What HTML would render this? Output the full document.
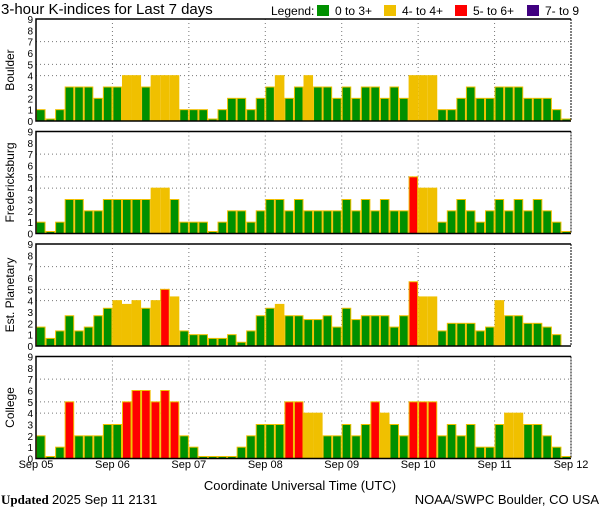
<!DOCTYPE html>
<html><head><meta charset="utf-8"><style>
body{margin:0;background:#fff;}
svg{display:block;font-family:"Liberation Sans",sans-serif;}
</style></head><body>
<svg id="chart" width="600" height="510" viewBox="0 0 600 510" xmlns="http://www.w3.org/2000/svg">
<text x="1" y="14" font-size="15" fill="#000">3-hour K-indices for Last 7 days</text>
<g font-size="12">
<text x="271" y="15">Legend:</text>
<rect x="317" y="5" width="12" height="11" fill="#009000"/>
<text x="335" y="15">0 to 3+</text>
<rect x="384" y="5" width="12" height="11" fill="#f0c000"/>
<text x="402" y="15">4- to 4+</text>
<rect x="455" y="5" width="12" height="11" fill="#ff0000"/>
<text x="473" y="15">5- to 6+</text>
<rect x="527" y="5" width="12" height="11" fill="#400080"/>
<text x="545" y="15">7- to 9</text>
</g>
<g id="panels"></g>
<text x="300" y="490" font-size="13" text-anchor="middle">Coordinate Universal Time (UTC)</text>
<text x="1" y="504" font-size="13" font-family="Liberation Serif, serif"><tspan font-weight="bold">Updated</tspan> <tspan font-family="Liberation Sans, sans-serif">2025 Sep 11 2131</tspan></text>
<text x="599" y="504" font-size="13" text-anchor="end">NOAA/SWPC Boulder, CO USA</text>
</svg>
<script>
const stations = ["Boulder","Fredericksburg","Est. Planetary","College"];
const dayLabels = ["Sep 05","Sep 06","Sep 07","Sep 08","Sep 09","Sep 10","Sep 11","Sep 12"];
const yTicks = [0,1,2,3,4,5,6,7,8,9];
const boulder = [1,0,1,3,3,3,2,3,3,4,4,3,4,4,4,1,1,1,0,1,2,2,1,2,3,4,2,3,4,3,3,2,3,2,3,3,2,3,2,4,4,4,1,1,2,3,2,2,3,3,3,2,2,2,1,0];
const fredericksburg = [1,0,1,3,3,2,2,3,3,3,3,3,4,4,3,1,1,1,0,1,2,2,1,2,3,3,2,3,2,2,2,2,3,2,3,2,3,2,2,5,4,4,1,2,3,2,1,2,3,2,3,2,3,2,1,0];
const planetary = [1.67,0.67,1.33,2.67,1.33,1.67,2.67,3.33,4,3.67,4,3.33,4,5,4.33,1.33,1,1,0.67,0.67,1,0.33,1.33,2.67,3.33,3.67,2.67,2.67,2.33,2.33,2.67,1.67,3.33,2.33,2.67,2.67,2.67,1.67,2.67,5.67,4.33,4.33,1.33,2,2,2,1.33,1.67,4,2.67,2.67,2,2,1.67,1,null];
const college = [2,0,1,5,2,2,2,3,3,5,6,6,5,6,5,2,1,0,0,0,0,1,2,3,3,3,5,5,4,4,2,2,3,2,3,5,4,3,2,5,5,5,2,3,2,3,1,1,3,4,4,3,3,2,1,0];
const series = [boulder,fredericksburg,planetary,college];

const NS="http://www.w3.org/2000/svg";
const X0=36, X1=571, panelTops=[19,131.5,244,356.5], PH=102;
const nBars=56;
const xScale = i => X0 + (X1-X0)*i/nBars;
function mk(tag,attrs,parent){const e=document.createElementNS(NS,tag);for(const k in attrs)e.setAttribute(k,attrs[k]);parent.appendChild(e);return e;}
function color(v){return v>=6.67?"#400080":v>=4.67?"#ff0000":v>=3.67?"#f0c000":"#009000";}
const root=document.getElementById("panels");
series.forEach((data,p)=>{
  const top=panelTops[p], bot=top+PH;
  const yScale = v => bot - v*PH/9;
  const g=mk("g",{},root);
  
  
  [4,5,7].forEach(v=>{
    const l=mk("line",{x1:X0,x2:X1,y1:yScale(v),y2:yScale(v),stroke:"#777","stroke-dasharray":"1,3"},g);
    
    
  });
  for(let d=1;d<7;d++){
    const l=mk("line",{x1:xScale(d*8),x2:xScale(d*8),y1:top,y2:bot,stroke:"#777","stroke-dasharray":"1,3"},g);
    
    
  }
  data.forEach((v,i)=>{
    if(v===null)return;
    const h=Math.max(v*PH/9,2);
    const r=mk("rect",{x:xScale(i)+0.5,y:bot-h,width:(X1-X0)/nBars-1,height:h,fill:color(v),stroke:"#f0c000","stroke-width":1},g);
    
    
  });
  const frame=mk("path",{d:`M${X1},${top} H${X0} V${bot} H${X1}`,fill:"none",stroke:"#000","stroke-width":1.5},g);
  
  
  const rf=mk("line",{x1:X1,x2:X1,y1:top,y2:bot,stroke:"#000","stroke-dasharray":"2,1"},g);
  
  
  yTicks.forEach(t=>{
    const tx=mk("text",{x:33,y:yScale(t)+4,"font-size":10,"text-anchor":"end"},g);
    tx.textContent=t;
    
    
  });
  const lab=mk("text",{transform:`translate(14,${top+PH/2}) rotate(-90)`,"font-size":12,"text-anchor":"middle"},g);
  lab.textContent=stations[p];
  
  
});
dayLabels.forEach((d,i)=>{
  const t=mk("text",{x:xScale(i*8),y:468,"font-size":11,"text-anchor":"middle"},document.getElementById("chart"));
  t.textContent=d;
  
  
});
</script>
</body></html>
